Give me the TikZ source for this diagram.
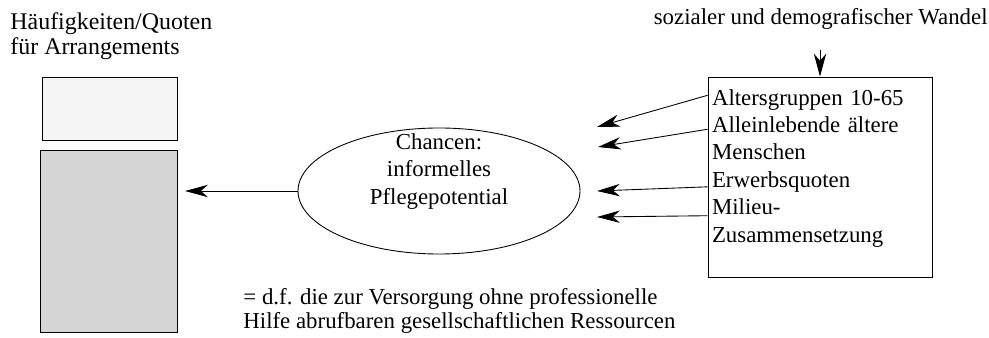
\documentclass[tikz,border=0pt]{standalone}
\usepackage{fontspec}
\setmainfont{Liberation Serif}
\usetikzlibrary{arrows.meta, shapes.geometric}
\definecolor{lightfill}{RGB}{245,245,245}
\definecolor{darkfill}{RGB}{214,214,214}
\begin{document}
\begin{tikzpicture}[>={Stealth[length=13pt, width=7pt, inset=4pt]}, line width=0.5pt,
  box/.style={draw, inner sep=0pt},
  txt/.style={inner sep=0pt, font=\fontsize{13}{14.2}\selectfont}]

\useasboundingbox (0, 0) rectangle (19.78, 6.76);

\node (title)[txt, anchor=north west, align=left, font=\fontsize{13.6}{14.2}\selectfont] at (0.2, 6.52) {Häufigkeiten/Quoten\\für Arrangements};

\node (quota)[box, fill=lightfill, minimum width=2.7cm, minimum height=1.26cm] at (2.19, 4.59) {};
\node (rest)[box, fill=darkfill, minimum width=2.74cm, minimum height=3.64cm] at (2.17, 1.94) {};

\node (chance)[box, ellipse, minimum width=5.64cm, minimum height=2.52cm] at (8.78, 2.94) {};
\node (chancetext)[txt, align=center, font=\fontsize{13}{15.4}\selectfont] at (8.78, 3.33) {Chancen:\\informelles\\Pflegepotential};

\node (wandel)[txt, anchor=base east] at (19.76, 6.26) {sozialer und demografischer Wandel};

\node (factors)[box, minimum height=4cm, text width=4.32cm, inner xsep=0.08cm, align=left, text depth=3.19cm, font=\fontsize{13}{15.6}\selectfont] at (16.4, 3.22) {Altersgruppen 10-65\\Alleinlebende ältere\\Menschen\\Erwerbsquoten\\Milieu-\\Zusammensetzung};

\node (note)[txt, anchor=north west, align=left] at (4.86, 1.01) {= d.f. die zur Versorgung ohne professionelle\\Hilfe abrufbaren gesellschaftlichen Ressourcen};

\coordinate (share) at (3.7, 2.94);
\coordinate (e1) at (11.94, 4.22);
\coordinate (e2) at (11.96, 3.82);
\coordinate (e3) at (11.94, 2.94);
\coordinate (e4) at (11.94, 2.42);

\draw[->] (chance.west) -- (share);

\draw[->] (factors.144.5) -- (e1);
\draw[->] (factors.157.7) -- (e2);
\draw[->] (factors.185.6) -- (e3);
\draw[->] (factors.199.7) -- (e4);

\draw[->, shorten <=0.4cm] (wandel.south -| factors.north) -- (factors.north);

\end{tikzpicture}
\end{document}
